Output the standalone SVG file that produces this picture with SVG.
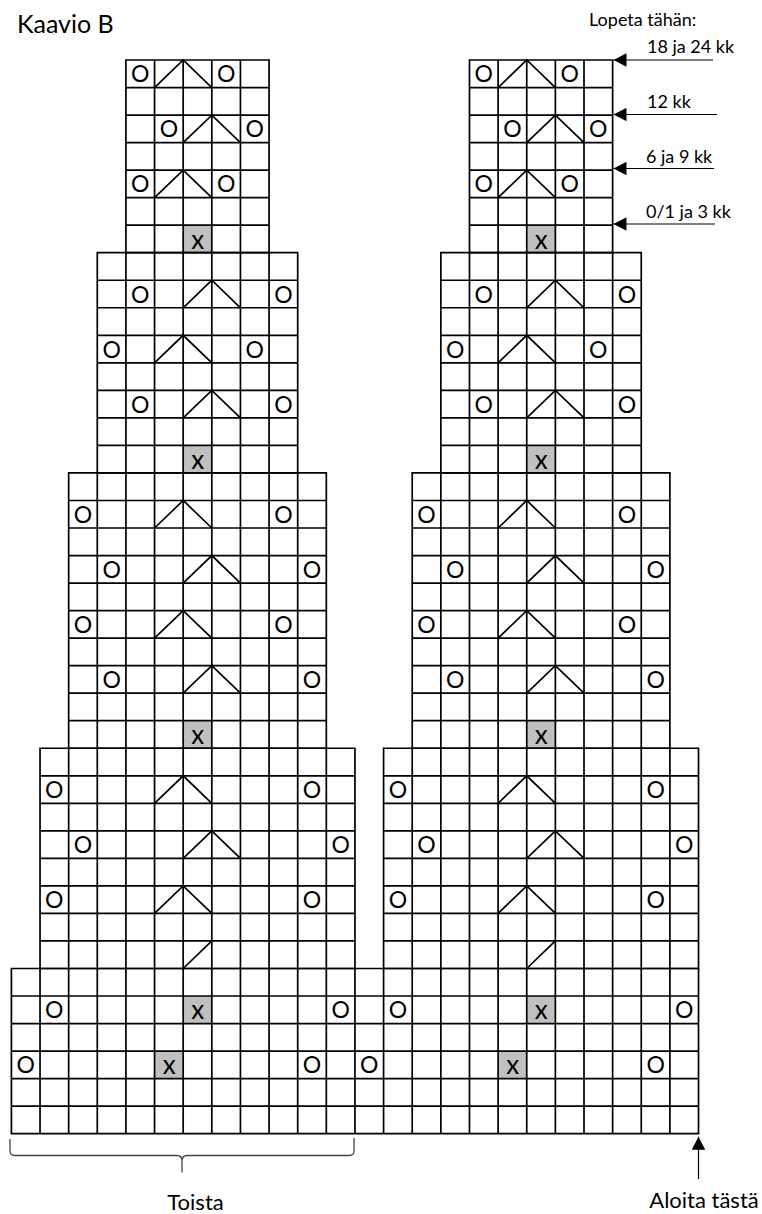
<svg xmlns="http://www.w3.org/2000/svg" width="762" height="1214" viewBox="0 0 762 1214">
<style>
.grid{fill:none;stroke:#000;stroke-width:1.7;stroke-linecap:square;vector-effect:non-scaling-stroke}
.diag{fill:none;stroke:#000;stroke-width:1.7;stroke-linecap:round;vector-effect:non-scaling-stroke}
.shade{fill:#c0c0c0;stroke:none}
.t{font-family:Lato,"Liberation Sans",sans-serif;fill:#000}
.o{font-size:23px;text-anchor:middle}
.x{font-size:26px;text-anchor:middle}
.lbl{font-size:18px}
.arr{stroke:#000;stroke-width:1.2;fill:none}
.brace{stroke:#444;stroke-width:1.3;fill:none}
</style>
<defs>
<marker id="ah" viewBox="0 0 13 13.4" refX="13" refY="6.7" markerWidth="13" markerHeight="13.4" markerUnits="userSpaceOnUse" orient="auto">
<path d="M0,0 L13,6.7 L0,13.4 z" fill="#000"/>
</marker>
</defs>
<text id="title" class="t" x="17" y="33.3" font-size="25">Kaavio B</text>

<g id="chart-grid" transform="matrix(28.63 0 0 27.53 11.4 60)">
<g id="shaded-cells">
<rect class="shade" x="6" y="6" width="1" height="1"/>
<rect class="shade" x="6" y="14" width="1" height="1"/>
<rect class="shade" x="6" y="24" width="1" height="1"/>
<rect class="shade" x="6" y="34" width="1" height="1"/>
<rect class="shade" x="5" y="36" width="1" height="1"/>
<rect class="shade" x="18" y="6" width="1" height="1"/>
<rect class="shade" x="18" y="14" width="1" height="1"/>
<rect class="shade" x="18" y="24" width="1" height="1"/>
<rect class="shade" x="18" y="34" width="1" height="1"/>
<rect class="shade" x="17" y="36" width="1" height="1"/>
</g>
<g id="left-block-a"><path class="grid" d="M4 0H9M4 1H9M4 2H9M4 3H9M4 4H9M4 5H9M4 6H9M4 7H9M4 0V7M5 0V7M6 0V7M7 0V7M8 0V7M9 0V7"/></g>
<g id="left-block-b"><path class="grid" d="M3 7H10M3 8H10M3 9H10M3 10H10M3 11H10M3 12H10M3 13H10M3 14H10M3 15H10M3 7V15M4 7V15M5 7V15M6 7V15M7 7V15M8 7V15M9 7V15M10 7V15"/></g>
<g id="left-block-c"><path class="grid" d="M2 15H11M2 16H11M2 17H11M2 18H11M2 19H11M2 20H11M2 21H11M2 22H11M2 23H11M2 24H11M2 25H11M2 15V25M3 15V25M4 15V25M5 15V25M6 15V25M7 15V25M8 15V25M9 15V25M10 15V25M11 15V25"/></g>
<g id="left-block-d"><path class="grid" d="M1 25H12M1 26H12M1 27H12M1 28H12M1 29H12M1 30H12M1 31H12M1 32H12M1 33H12M1 25V33M2 25V33M3 25V33M4 25V33M5 25V33M6 25V33M7 25V33M8 25V33M9 25V33M10 25V33M11 25V33M12 25V33"/></g>
<g id="right-block-a"><path class="grid" d="M16 0H21M16 1H21M16 2H21M16 3H21M16 4H21M16 5H21M16 6H21M16 7H21M16 0V7M17 0V7M18 0V7M19 0V7M20 0V7M21 0V7"/></g>
<g id="right-block-b"><path class="grid" d="M15 7H22M15 8H22M15 9H22M15 10H22M15 11H22M15 12H22M15 13H22M15 14H22M15 15H22M15 7V15M16 7V15M17 7V15M18 7V15M19 7V15M20 7V15M21 7V15M22 7V15"/></g>
<g id="right-block-c"><path class="grid" d="M14 15H23M14 16H23M14 17H23M14 18H23M14 19H23M14 20H23M14 21H23M14 22H23M14 23H23M14 24H23M14 25H23M14 15V25M15 15V25M16 15V25M17 15V25M18 15V25M19 15V25M20 15V25M21 15V25M22 15V25M23 15V25"/></g>
<g id="right-block-d"><path class="grid" d="M13 25H24M13 26H24M13 27H24M13 28H24M13 29H24M13 30H24M13 31H24M13 32H24M13 33H24M13 25V33M14 25V33M15 25V33M16 25V33M17 25V33M18 25V33M19 25V33M20 25V33M21 25V33M22 25V33M23 25V33M24 25V33"/></g>
<g id="base-block"><path class="grid" d="M0 33H24M0 34H24M0 35H24M0 36H24M0 37H24M0 38H24M0 39H24M0 33V39M1 33V39M2 33V39M3 33V39M4 33V39M5 33V39M6 33V39M7 33V39M8 33V39M9 33V39M10 33V39M11 33V39M12 33V39M13 33V39M14 33V39M15 33V39M16 33V39M17 33V39M18 33V39M19 33V39M20 33V39M21 33V39M22 33V39M23 33V39M24 33V39"/></g>
<g id="decreases">
<path class="diag" d="M5 1L6 0L7 1M6 3L7 2L8 3M5 5L6 4L7 5M6 9L7 8L8 9M5 11L6 10L7 11M6 13L7 12L8 13M5 17L6 16L7 17M6 19L7 18L8 19M5 21L6 20L7 21M6 23L7 22L8 23M5 27L6 26L7 27M6 29L7 28L8 29M5 31L6 30L7 31M6 33L7 32"/>
<path class="diag" d="M17 1L18 0L19 1M18 3L19 2L20 3M17 5L18 4L19 5M18 9L19 8L20 9M17 11L18 10L19 11M18 13L19 12L20 13M17 17L18 16L19 17M18 19L19 18L20 19M17 21L18 20L19 21M18 23L19 22L20 23M17 27L18 26L19 27M18 29L19 28L20 29M17 31L18 30L19 31M18 33L19 32"/>
</g>
</g>

<g id="yarn-overs" class="t o">
<text x="140.2" y="82.3">O</text><text x="226.1" y="82.3">O</text>
<text x="168.9" y="137.4">O</text><text x="254.7" y="137.4">O</text>
<text x="140.2" y="192.4">O</text><text x="226.1" y="192.4">O</text>
<text x="140.2" y="302.5">O</text><text x="283.4" y="302.5">O</text>
<text x="111.6" y="357.6">O</text><text x="254.7" y="357.6">O</text>
<text x="140.2" y="412.7">O</text><text x="283.4" y="412.7">O</text>
<text x="83" y="522.8">O</text><text x="283.4" y="522.8">O</text>
<text x="111.6" y="577.8">O</text><text x="312" y="577.8">O</text>
<text x="83" y="632.9">O</text><text x="283.4" y="632.9">O</text>
<text x="111.6" y="688">O</text><text x="312" y="688">O</text>
<text x="54.3" y="798.1">O</text><text x="312" y="798.1">O</text>
<text x="83" y="853.1">O</text><text x="340.6" y="853.1">O</text>
<text x="54.3" y="908.2">O</text><text x="312" y="908.2">O</text>
<text x="54.3" y="1018.3">O</text><text x="340.6" y="1018.3">O</text>
<text x="25.7" y="1073.4">O</text><text x="312" y="1073.4">O</text>
<text x="483.8" y="82.3">O</text><text x="569.7" y="82.3">O</text>
<text x="512.4" y="137.4">O</text><text x="598.3" y="137.4">O</text>
<text x="483.8" y="192.4">O</text><text x="569.7" y="192.4">O</text>
<text x="483.8" y="302.5">O</text><text x="626.9" y="302.5">O</text>
<text x="455.2" y="357.6">O</text><text x="598.3" y="357.6">O</text>
<text x="483.8" y="412.7">O</text><text x="626.9" y="412.7">O</text>
<text x="426.5" y="522.8">O</text><text x="626.9" y="522.8">O</text>
<text x="455.2" y="577.8">O</text><text x="655.6" y="577.8">O</text>
<text x="426.5" y="632.9">O</text><text x="626.9" y="632.9">O</text>
<text x="455.2" y="688">O</text><text x="655.6" y="688">O</text>
<text x="397.9" y="798.1">O</text><text x="655.6" y="798.1">O</text>
<text x="426.5" y="853.1">O</text><text x="684.2" y="853.1">O</text>
<text x="397.9" y="908.2">O</text><text x="655.6" y="908.2">O</text>
<text x="397.9" y="1018.3">O</text><text x="684.2" y="1018.3">O</text>
<text x="369.3" y="1073.4">O</text><text x="655.6" y="1073.4">O</text>
</g>

<g id="x-marks" class="t x">
<text x="197.8" y="248.5">x</text>
<text x="197.8" y="468.7">x</text>
<text x="197.8" y="744">x</text>
<text x="197.8" y="1019.3">x</text>
<text x="169.2" y="1074.4">x</text>
<text x="541.3" y="248.5">x</text>
<text x="541.3" y="468.7">x</text>
<text x="541.3" y="744">x</text>
<text x="541.3" y="1019.3">x</text>
<text x="512.7" y="1074.4">x</text>
</g>

<g id="connectors">
<line class="arr" x1="713" y1="60" x2="613.5" y2="60" marker-end="url(#ah)"/>
<line class="arr" x1="717" y1="114.5" x2="613.5" y2="114.5" marker-end="url(#ah)"/>
<line class="arr" x1="714" y1="168.5" x2="613.5" y2="168.5" marker-end="url(#ah)"/>
<line class="arr" x1="715" y1="224" x2="613.5" y2="224" marker-end="url(#ah)"/>
<line class="arr" x1="698.5" y1="1179" x2="698.5" y2="1136.7" marker-end="url(#ah)"/>
<path class="brace" d="M10,1139 L10,1151 Q10,1155.5 15,1155.5 L177,1155.5 Q182,1155.5 182,1161 L182,1172.5 M182,1161 Q182,1155.5 187,1155.5 L349,1155.5 Q354,1155.5 354,1151 L354,1138"/>
</g>

<g id="labels" class="t">
<text class="lbl" x="589" y="26" font-size="17.5">Lopeta tähän:</text>
<text class="lbl" x="647" y="53.3">18 ja 24 kk</text>
<text class="lbl" x="647" y="107.7">12 kk</text>
<text class="lbl" x="646" y="163.3">6 ja 9 kk</text>
<text class="lbl" x="646" y="218.3">0/1 ja 3 kk</text>
<text x="167.3" y="1210" font-size="22">Toista</text>
<text x="649.3" y="1208.3" font-size="22">Aloita tästä</text>
</g>
</svg>
